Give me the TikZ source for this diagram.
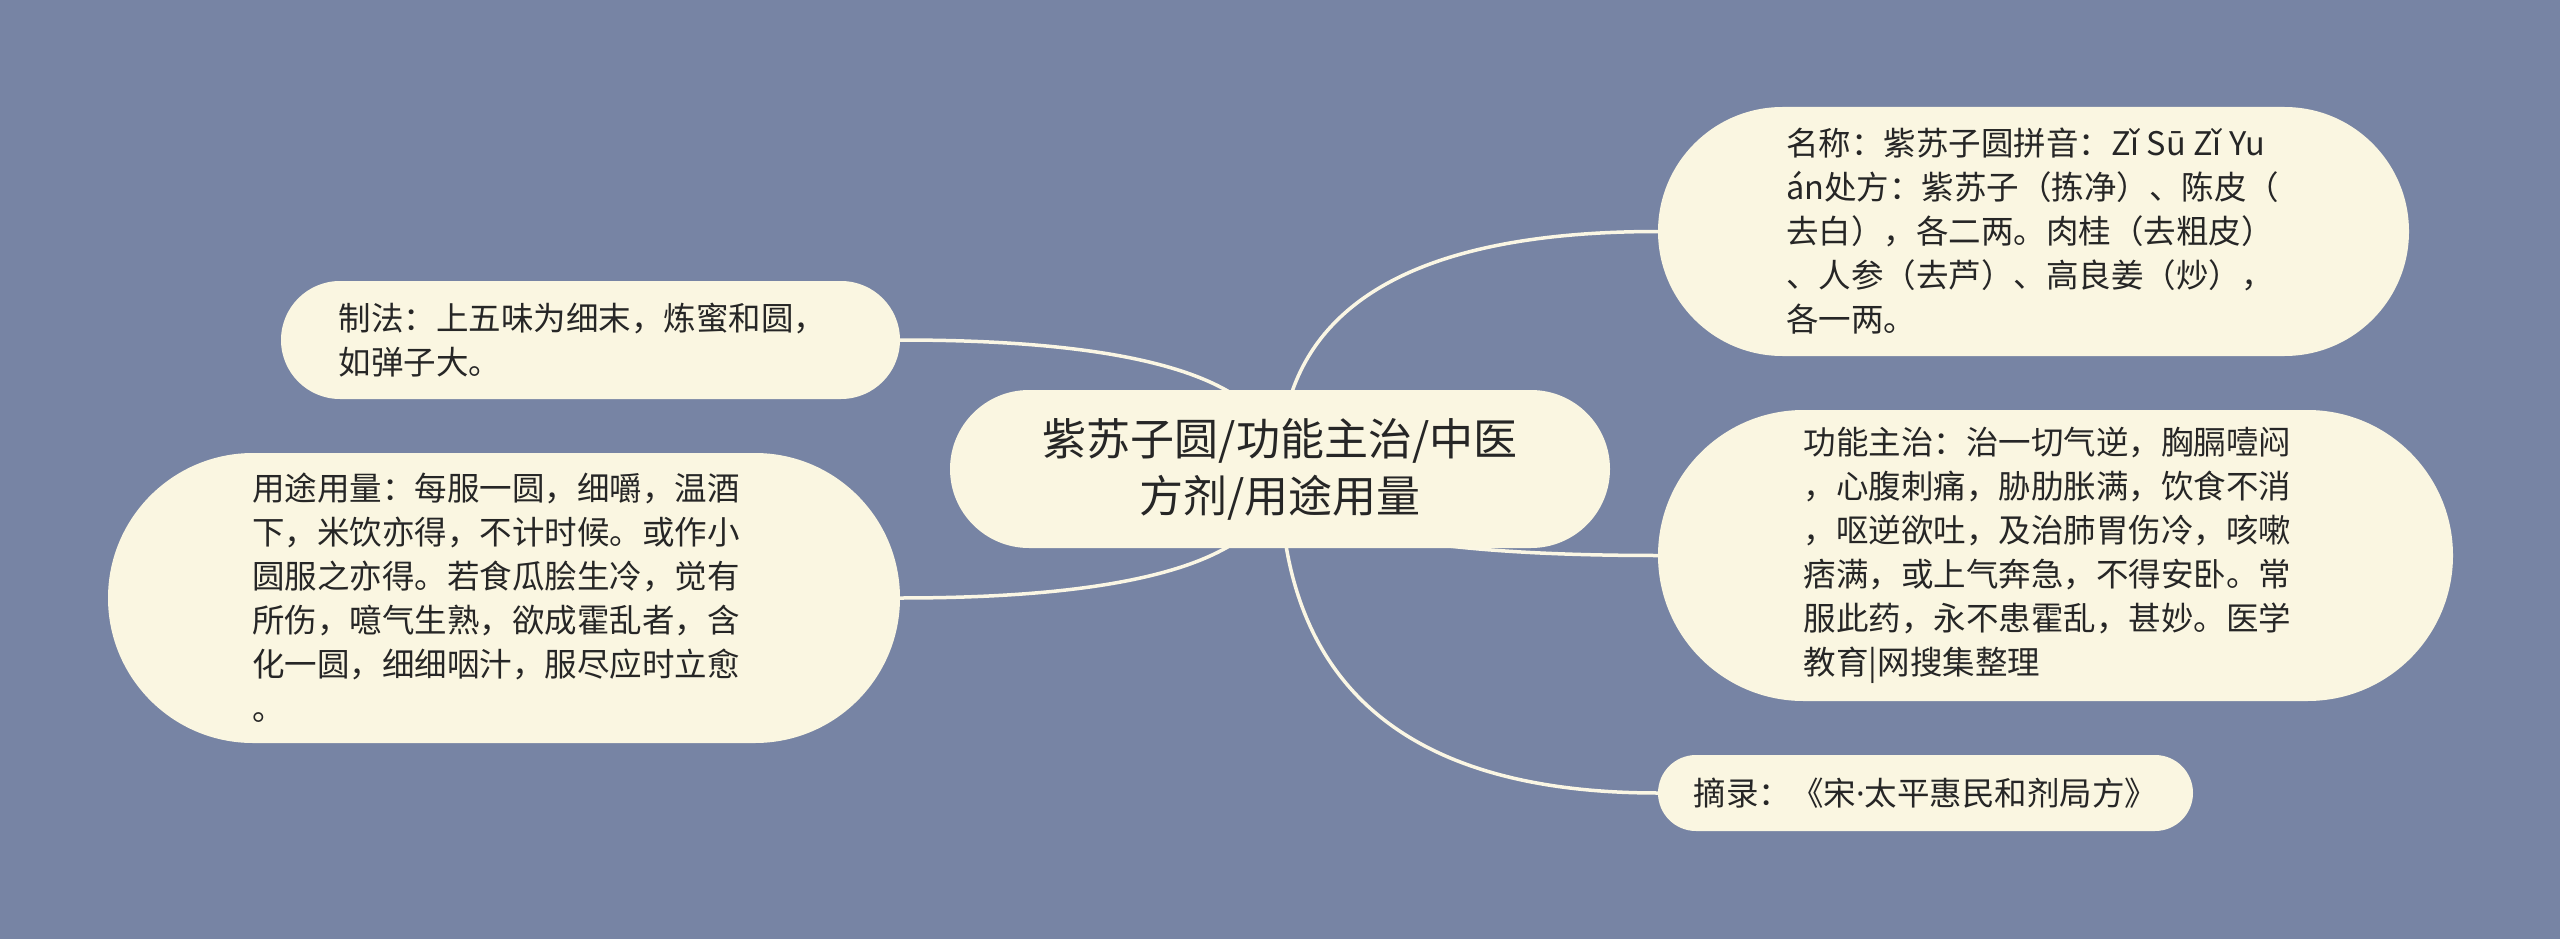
\documentclass[tikz,border=0pt]{standalone}
\usepackage{fontspec}
\setmainfont{Noto Sans CJK SC}
\newfontfamily\latinfont{Noto Sans}
\usetikzlibrary{shapes.misc,calc}
\pgfdeclarelayer{back}
\pgfdeclarelayer{bg}
\pgfsetlayers{back,bg,main}
\definecolor{bgc}{HTML}{7784A4}
\definecolor{nodec}{HTML}{FAF6E1}
\definecolor{txtc}{HTML}{262626}
\definecolor{linkc}{HTML}{FAF6E4}
\newcommand{\padr}{\hspace*{16pt}}
\begin{document}
\begin{tikzpicture}[x=1pt,y=-1pt,
  topic/.style={rounded rectangle, fill=nodec, text=txtc, align=left, inner sep=0pt,
    font=\fontsize{32.5}{44}\selectfont},
  central/.style={topic, align=center, font=\fontsize{44}{57}\selectfont},
  link/.style={draw=linkc, line width=3.5pt}]
\begin{pgfonlayer}{back}
\fill[bgc] (0,0) rectangle (2560,939);
\end{pgfonlayer}
\useasboundingbox (0,0) rectangle (2560,939);

\node[central, minimum width=660pt, minimum height=158pt] (c) at (1280,469)
  {紫苏子圆/功能主治/中医\\方剂/用途用量};

\node[topic, minimum width=751pt, minimum height=249pt] (n1) at (2033.5,231.5)
  {名称：紫苏子圆拼音：Zǐ Sū Zǐ Yu\padr\\án处方：紫苏子（拣净）、陈皮（\\去白），各二两。肉桂（去粗皮）\\、人参（去芦）、高良姜（炒），\\各一两。};

\node[topic, minimum width=795pt, minimum height=291pt] (n2) at (2055.5,555.5)
  {功能主治：治一切气逆，胸膈噎闷\padr\\，心腹刺痛，胁肋胀满，饮食不消\\，呕逆欲吐，及治肺胃伤冷，咳嗽\\痞满，或上气奔急，不得安卧。常\\服此药，永不患霍乱，甚妙。医学\\教育|网搜集整理};

\node[topic, minimum width=535pt, minimum height=76pt] (n3) at (1925.5,793)
  {摘录：《宋{\latinfont ·}太平惠民和剂局方》};

\node[topic, minimum width=619pt, minimum height=118pt] (n4) at (590.5,340)
  {制法：上五味为细末，炼蜜和圆，\padr\\如弹子大。};

\node[topic, minimum width=792pt, minimum height=290pt] (n5) at (504,598)
  {用途用量：每服一圆，细嚼，温酒\padr\\下，米饮亦得，不计时候。或作小\\圆服之亦得。若食瓜脍生冷，觉有\\所伤，噫气生熟，欲成霍乱者，含\\化一圆，细细咽汁，服尽应时立愈\\。};

\begin{pgfonlayer}{bg}
  \foreach \t/\e in {n1/west, n2/west, n3/west, n4/east, n5/east} {
    \coordinate (k) at (c.center |- \t.\e);
    \draw[link] (c.center) .. controls ($(c.center)!2/3!(k)$) and ($(\t.\e)!2/3!(k)$) .. (\t.\e);
  }
\end{pgfonlayer}
\end{tikzpicture}
\end{document}
